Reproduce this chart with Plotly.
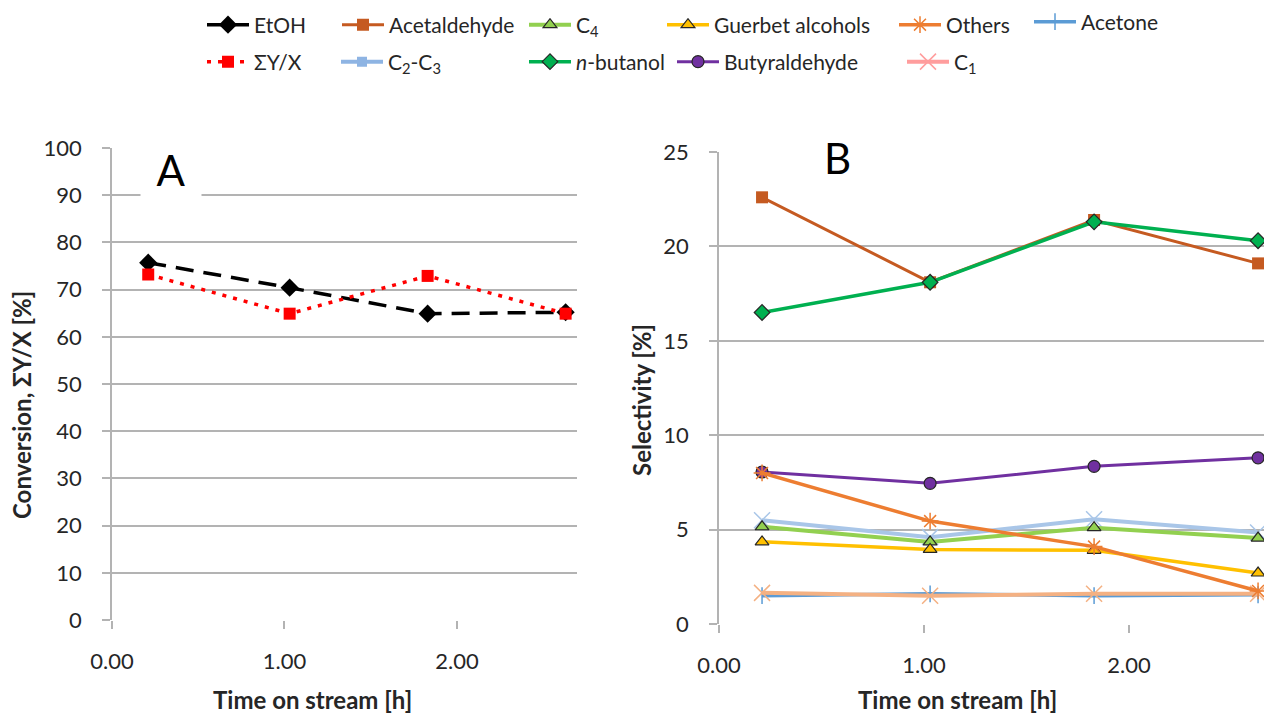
import plotly.graph_objects as go

# ---------------- data ----------------
time_h = [0.21, 1.03, 1.83, 2.63]

etoh = [75.7, 70.4, 64.9, 65.2]
sum_y_x = [73.2, 64.9, 72.9, 64.9]

acetaldehyde = [22.6, 18.1, 21.4, 19.1]
n_butanol = [16.5, 18.1, 21.3, 20.3]
butyraldehyde = [8.05, 7.45, 8.35, 8.8]
others = [8.0, 5.45, 4.1, 1.75]
c2_c3 = [5.5, 4.6, 5.55, 4.85]
c4 = [5.15, 4.35, 5.1, 4.55]
guerbet = [4.35, 3.95, 3.9, 2.7]
c1 = [1.65, 1.5, 1.6, 1.6]
acetone = [1.5, 1.6, 1.5, 1.55]

x_ticks = [0, 1, 2]
x_tick_labels = ["0.00", "1.00", "2.00"]

# ---------------- layout helpers ----------------
W, H = 1264, 715
FONT = "Lato, 'Open Sans', sans-serif"
GRID = "#b3b3b3"
TXT = "#262626"


def px_x(p):
    return p / W


def px_y(p):
    return 1 - p / H


fig = go.Figure()

# ---------------- panel A ----------------
fig.add_trace(go.Scatter(
    x=time_h, y=etoh, name="EtOH", xaxis="x", yaxis="y", legend="legend12",
    mode="lines+markers", cliponaxis=False,
    line=dict(color="black", width=3.5, dash="18px,10px"),
    marker=dict(symbol="diamond", size=14, color="black")))
fig.add_trace(go.Scatter(
    x=time_h, y=sum_y_x, name="ΣY/X", xaxis="x", yaxis="y", legend="legend2",
    mode="lines+markers", cliponaxis=False,
    line=dict(color="#ff0000", width=3.5, dash="4px,7px"),
    marker=dict(symbol="square", size=12, color="#ff0000")))

# ---------------- panel B ----------------
ol = dict(color="#262626", width=1.2)
specs_b = [
    ("C<sub>2</sub>-C<sub>3</sub>", c2_c3, "#a9c6e8", 4, dict(symbol="x-thin-open", size=16, line=dict(color="#a9c6e8", width=1.5)), "legend4", False),
    ("C<sub>4</sub>", c4, "#92d050", 4, dict(symbol="triangle-up", size=12, color="#92d050", line=ol), "legend5", True),
    ("Guerbet alcohols", guerbet, "#ffc000", 3.5, dict(symbol="triangle-up", size=12, color="#ffc000", line=ol), "legend7", True),
    ("Acetone", acetone, "#5b9bd5", 3.5, dict(symbol="line-ns-open", size=12, line=dict(color="#5b9bd5", width=1.5)), "legend11", True),
    ("C<sub>1</sub>", c1, "#f4b183", 4, dict(symbol="x-thin-open", size=16, line=dict(color="#f4b183", width=1.5)), "legend10", False),
    ("Butyraldehyde", butyraldehyde, "#7030a0", 3, dict(symbol="circle", size=12, color="#7030a0", line=ol), "legend8", True),
    ("Others", others, "#ed7d31", 3.5, dict(symbol="asterisk-open", size=14, line=dict(color="#ed7d31", width=1.5)), "legend9", True),
    ("Acetaldehyde", acetaldehyde, "#c55a21", 3, dict(symbol="square", size=12, color="#c55a21"), "legend3", True),
    ("<i>n</i>-butanol", n_butanol, "#00b050", 3.5, dict(symbol="diamond", size=12, color="#00b050", line=ol), "legend6", True),
]
for name, vals, col, lw, mk, lg, showlg in specs_b:
    fig.add_trace(go.Scatter(
        x=time_h, y=vals, name=name, xaxis="x2", yaxis="y2", legend=lg,
        showlegend=showlg, mode="lines+markers", cliponaxis=False,
        line=dict(color=col, width=lw), marker=mk))

# legend-only entries where the key differs from the plotted marker
fig.add_trace(go.Scatter(
    x=[None], y=[None], name="C<sub>2</sub>-C<sub>3</sub>", xaxis="x2", yaxis="y2",
    legend="legend4", mode="lines+markers",
    line=dict(color="#8eb4e3", width=4),
    marker=dict(symbol="square", size=10, color="#8eb4e3")))
fig.add_trace(go.Scatter(
    x=[None], y=[None], name="C<sub>1</sub>", xaxis="x2", yaxis="y2",
    legend="legend10", mode="lines+markers",
    line=dict(color="#ff9d9d", width=4),
    marker=dict(symbol="x-thin-open", size=16, line=dict(color="#ffb3b3", width=1.5))))

# ---------------- legends (one per entry, placed like the original) ----------------
legend_pos = {
    "legend12": (258, 25), "legend3": (393, 25), "legend5": (580, 25),
    "legend7": (718, 25), "legend9": (950, 25), "legend11": (1085, 22),
    "legend2": (258, 62), "legend4": (392, 62), "legend6": (580, 62),
    "legend8": (728, 62), "legend10": (958, 62),
}
legends = {}
for key, (tx, ty) in legend_pos.items():
    legends[key] = dict(
        x=px_x(tx - 56), y=px_y(ty), xanchor="left", yanchor="middle",
        bgcolor="rgba(0,0,0,0)", borderwidth=0, visible=True, itemwidth=42,
        font=dict(family=FONT, size=21, color=TXT),
        itemclick=False, itemdoubleclick=False)

fig.update_layout(
    width=W, height=H,
    margin=dict(l=0, r=0, t=0, b=0, pad=0, autoexpand=False),
    paper_bgcolor="white", plot_bgcolor="white",
    font=dict(family=FONT, color=TXT),
    showlegend=True,
    **legends,
    xaxis=dict(
        domain=[px_x(112), px_x(577)], range=[0, 2.696], anchor="y",
        tickvals=x_ticks, ticktext=x_tick_labels, automargin=False,
        ticks="outside", ticklen=8, tickcolor=GRID, tickwidth=1.5,
        showline=False, showgrid=False, zeroline=False,
        ticklabelstandoff=14,
        tickfont=dict(family=FONT, size=22, color=TXT)),
    yaxis=dict(
        domain=[px_y(620), px_y(148)], range=[0, 100], anchor="x",
        dtick=10, ticks="outside", ticklen=8, tickcolor=GRID, tickwidth=1.5,
        showgrid=True, gridcolor=GRID, gridwidth=1.5, automargin=False,
        showline=True, linecolor=GRID, linewidth=1.5,
        zeroline=False, ticklabelstandoff=16,
        tickfont=dict(family=FONT, size=22, color=TXT)),
    xaxis2=dict(
        domain=[px_x(719), 1.0], range=[0, 2.659], anchor="y2",
        tickvals=x_ticks, ticktext=x_tick_labels, automargin=False,
        ticks="outside", ticklen=8, tickcolor=GRID, tickwidth=1.5,
        showline=False, showgrid=False, zeroline=False,
        ticklabelstandoff=14,
        tickfont=dict(family=FONT, size=22, color=TXT)),
    yaxis2=dict(
        domain=[px_y(624), px_y(152)], range=[0, 25], anchor="x2",
        dtick=5, ticks="outside", ticklen=8, tickcolor=GRID, tickwidth=1.5,
        showgrid=True, gridcolor=GRID, gridwidth=1.5, automargin=False,
        showline=True, linecolor=GRID, linewidth=1.5,
        zeroline=False, ticklabelstandoff=16,
        tickfont=dict(family=FONT, size=22, color=TXT)),
)

# ---------------- text annotations ----------------
ann = [
    dict(text="A", x=px_x(171), y=px_y(170), font=dict(family=FONT, size=42, color="black"),
         bgcolor="white", width=58, height=62),
    dict(text="B", x=px_x(837), y=px_y(158), font=dict(family=FONT, size=42, color="black"),
         bgcolor="white", width=59, height=50),
    dict(text="<b>Time on stream [h]</b>", x=px_x(312), y=px_y(699),
         font=dict(family=FONT, size=24, color=TXT)),
    dict(text="<b>Time on stream [h]</b>", x=px_x(957), y=px_y(699),
         font=dict(family=FONT, size=24, color=TXT)),
    dict(text="<b>Conversion, ΣY/X [%]</b>", x=px_x(21), y=px_y(405), textangle=-90,
         font=dict(family=FONT, size=24, color=TXT)),
    dict(text="<b>Selectivity [%]</b>", x=px_x(641), y=px_y(400), textangle=-90,
         font=dict(family=FONT, size=24, color=TXT)),
]
for a in ann:
    a.update(xref="paper", yref="paper", showarrow=False, xanchor="center", yanchor="middle")
    fig.add_annotation(**a)

fig.write_html("out.html", config={"displayModeBar": False},
               post_script="document.body.style.margin='0px';")
